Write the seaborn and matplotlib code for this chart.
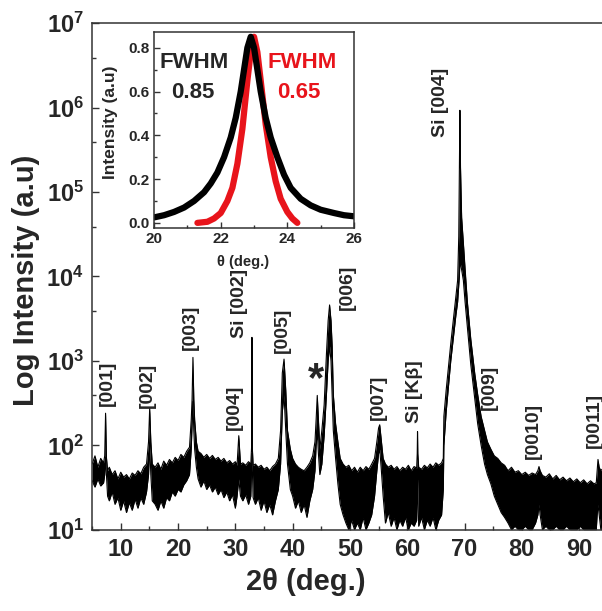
import numpy as np
import pandas as pd
import seaborn as sns
from matplotlib import pyplot as plt
from matplotlib.ticker import FixedLocator, LogLocator, MultipleLocator, NullFormatter

# main XRD pattern, read off the picture as an envelope of the noisy trace
# (2theta, upper edge, lower edge)
tt = [5.0, 5.5, 6.0, 6.5, 7.0, 7.2, 7.35, 7.5, 7.7,
      8.0, 8.5, 9.0, 9.5, 10.0, 10.5, 11.0, 11.5, 12.0, 12.5, 13.0, 13.5, 14.0, 14.5,
      14.85, 15.05, 15.25, 15.5,
      16.0, 16.5, 17.0, 17.5, 18.0, 18.5, 19.0, 19.5, 20.0, 20.5, 21.0, 21.5, 22.0,
      22.3, 22.45, 22.6, 22.75, 22.9, 23.2,
      23.5, 24.0, 24.5, 25.0, 25.5, 26.0, 26.5, 27.0, 27.5, 28.0, 28.5, 29.0, 29.5, 30.0, 30.3,
      30.6, 30.9, 31.3, 31.8, 32.3, 32.7,
      32.85, 32.9, 32.95, 33.1,
      33.5, 34.0, 34.5, 35.0, 35.5, 36.0, 36.5, 37.0, 37.5,
      37.9, 38.2, 38.5, 38.8, 39.1, 39.6,
      40.0, 40.5, 41.0, 41.5, 42.0, 42.5, 43.0, 43.5, 43.9,
      44.1, 44.3, 44.5, 44.75,
      45.1, 45.5, 45.9, 46.2, 46.45, 46.7, 46.9, 47.1, 47.5, 47.9, 48.3,
      48.8, 49.3, 49.8, 50.3, 50.8, 51.3, 51.8, 52.3, 52.8, 53.3, 53.8, 54.3,
      54.7, 55.0, 55.2, 55.45, 55.8,
      56.2, 56.7, 57.2, 57.7, 58.2, 58.7, 59.2, 59.7, 60.2, 60.7, 61.2, 61.65,
      61.75, 61.8, 61.85, 62.0,
      62.5, 63.0, 63.5, 64.0, 64.5, 65.0, 65.5, 66.0, 66.3,
      66.4, 66.8, 67.2, 67.6, 68.1, 68.5, 68.8, 69.0, 69.1, 69.2, 69.3, 69.5, 69.8, 70.1,
      70.5, 71.1, 71.8, 72.3, 72.9, 73.5, 74.0, 74.6, 75.2, 75.8, 76.4, 77.0, 77.6,
      78.2, 78.8, 79.4, 80.0, 80.6, 81.2, 81.8, 82.4, 82.8,
      83.0, 83.2, 83.6, 84.2, 84.8, 85.4, 86.0, 86.6, 87.2, 87.8, 88.4, 89.0, 89.6,
      90.2, 90.8, 91.4, 92.0, 92.6, 93.0,
      93.15, 93.3, 93.5, 93.8, 94.0]
hi = [60, 75, 55, 70, 62, 75, 240, 72, 50,
      55, 45, 50, 40, 48, 42, 45, 40, 47, 44, 50, 46, 55, 60,
      110, 275, 110, 60,
      55, 62, 52, 65, 58, 68, 62, 72, 66, 78, 72, 85, 95,
      200, 350, 1100, 350, 200, 110,
      85, 80, 72, 78, 70, 76, 68, 72, 65, 70, 62, 66, 60, 64, 58,
      130, 60, 62, 58, 64, 60,
      100, 1900, 100, 58,
      60, 55, 58, 52, 55, 50, 56, 60, 70,
      150, 720, 1050, 450, 150, 90,
      70, 60, 55, 52, 50, 55, 62, 75, 110,
      200, 390, 200, 90,
      150, 300, 1200, 3000, 4600, 3000, 1500, 400, 180, 110, 70,
      60, 55, 58, 50, 55, 48, 55, 50, 56, 52, 60, 70,
      110, 160, 175, 120, 70,
      60, 55, 58, 52, 56, 50, 55, 52, 58, 50, 56, 54,
      80, 145, 80, 55,
      52, 58, 54, 60, 55, 62, 58, 62, 70,
      220, 450, 850, 1600, 3300, 6000, 9000, 30000, 150000, 930000, 200000, 50000, 25000, 12000,
      5000, 1800, 700, 400, 220, 150, 110, 90, 75, 70, 62, 58, 50,
      55, 48, 50, 45, 48, 44, 47, 45, 50,
      56, 50, 44, 42, 46, 40, 44, 39, 42, 38, 41, 37, 40,
      36, 39, 35, 38, 35, 36,
      50, 68, 55, 50, 52]
lo = [38, 32, 40, 33, 36, 45, 70, 45, 25,
      22, 28, 20, 24, 17, 22, 16, 21, 17, 23, 18, 24, 20, 28,
      45, 100, 45, 22,
      20, 17, 22, 18, 24, 22, 28, 25, 30, 28, 34, 38, 45,
      90, 180, 330, 150, 90, 55,
      40, 32, 38, 30, 34, 28, 32, 26, 30, 24, 28, 22, 26, 18, 25,
      40, 25, 22, 26, 20, 25,
      60, 80, 60, 24,
      20, 24, 17, 22, 16, 20, 15, 22, 30,
      60, 250, 400, 150, 60, 30,
      25, 18, 22, 16, 20, 14, 22, 30, 50,
      100, 150, 80, 45,
      60, 130, 400, 1000, 1500, 1000, 400, 150, 70, 35, 20,
      15, 12, 10, 13, 10, 12, 10, 14, 10, 12, 15, 25,
      50, 80, 90, 55, 25,
      12, 16, 11, 14, 10, 13, 11, 14, 10, 12, 11, 13,
      30, 40, 30, 11,
      14, 10, 13, 11, 14, 10, 13, 15, 30,
      100, 250, 500, 1000, 2000, 3500, 5000, 8000, 10000, 15000, 14000, 12000, 9000, 5000,
      2500, 900, 350, 180, 100, 60, 45, 35, 25, 20, 16, 14, 12,
      10, 11, 10, 10, 11, 10, 10, 12, 15,
      20, 15, 10, 11, 10, 10, 11, 10, 10, 11, 10, 10, 10,
      11, 10, 10, 10, 10, 10,
      15, 20, 15, 10, 10]

# peak labels: text, 2theta, intensity at the label's lower end
peak_text = ['[001]', '[002]', '[003]', '[004]', 'Si [002]', '[005]', '[006]', '[007]',
             'Si [K\u03b2]', 'Si [004]', '[009]', '[0010]', '[0011]']
peak_x = [7.6, 14.6, 22.2, 29.8, 30.8, 38.2, 49.6, 55.0, 61.3, 65.8, 74.4, 82.0, 92.6]
peak_y = [290, 280, 1350, 150, 1850, 1230, 4000, 200, 185, 450000, 265, 68, 94]

# inset: normalised [003] peak, two samples
theta_black = [20.0, 20.3, 20.6, 20.9, 21.2, 21.5, 21.7, 21.9, 22.1, 22.3, 22.45, 22.6,
               22.7, 22.8, 22.9, 23.0, 23.1, 23.2, 23.35, 23.5, 23.7, 23.9, 24.1, 24.4,
               24.7, 25.0, 25.4, 25.7, 26.0]
int_black = [0.025, 0.035, 0.05, 0.07, 0.1, 0.14, 0.18, 0.23, 0.3, 0.39, 0.48, 0.6,
             0.7, 0.8, 0.85, 0.8, 0.7, 0.6, 0.48, 0.39, 0.3, 0.22, 0.16, 0.11,
             0.08, 0.06, 0.045, 0.035, 0.03]
theta_red = [21.3, 21.6, 21.8, 22.0, 22.2, 22.35, 22.5, 22.65, 22.8, 22.9, 23.0, 23.1,
             23.2, 23.35, 23.5, 23.65, 23.8, 24.0, 24.15, 24.3]
int_red = [0.0, 0.005, 0.02, 0.045, 0.1, 0.16, 0.27, 0.43, 0.65, 0.78, 0.85, 0.78,
           0.65, 0.45, 0.3, 0.19, 0.11, 0.05, 0.02, 0.0]

sns.set_theme(style='ticks')
plt.rcParams['font.family'] = ['Liberation Sans', 'DejaVu Sans']
plt.rcParams['font.weight'] = 'bold'
plt.rcParams['axes.labelweight'] = 'bold'
plt.rcParams['axes.linewidth'] = 1.1
plt.rcParams['axes.edgecolor'] = '#333333'

fig = plt.figure(figsize=(6.02, 6.11), dpi=100)
ax = fig.add_axes([0.153, 0.133, 0.847, 0.829])

main = pd.DataFrame({'tt': tt, 'hi': hi, 'lo': lo})
ax.fill_between(main['tt'], main['lo'], main['hi'], color='black', lw=0)
sns.lineplot(data=main, x='tt', y='hi', ax=ax, color='black', lw=0.8)
sns.lineplot(data=main, x='tt', y='lo', ax=ax, color='black', lw=0.8)

ax.set_yscale('log')
ax.set_xlim(5, 94)
ax.set_ylim(10, 1e7)
ax.xaxis.set_major_locator(FixedLocator([10, 20, 30, 40, 50, 60, 70, 80, 90]))
ax.xaxis.set_minor_locator(MultipleLocator(5))
ax.yaxis.set_major_locator(LogLocator(base=10, numticks=10))
ax.yaxis.set_minor_locator(LogLocator(base=10, subs=[3.9], numticks=10))
ax.yaxis.set_minor_formatter(NullFormatter())
ax.tick_params(which='both', direction='in', color='#333333')
ax.tick_params(which='major', length=5, width=1, labelsize=17, pad=6)
ax.tick_params(which='minor', length=3, width=1)
ax.spines['right'].set_visible(False)

ax.set_xlabel('2\u03b8 (deg.)', fontsize=21)
ax.set_ylabel('Log Intensity (a.u)', fontsize=21)
ax.xaxis.set_label_coords(0.42, -0.075)
ax.yaxis.set_label_coords(-0.102, 0.493)

for t, x, y in zip(peak_text, peak_x, peak_y):
    ax.text(x, y, t, rotation=90, ha='center', va='bottom', fontsize=14)
ax.text(44.1, 600, '*', ha='center', va='center', fontsize=30)

# inset
ins = fig.add_axes([0.256, 0.627, 0.332, 0.321])
sns.lineplot(x=theta_red, y=int_red, ax=ins, color='#e8141b', lw=4.5, sort=False)
sns.lineplot(x=theta_black, y=int_black, ax=ins, color='black', lw=4.5, sort=False)
ins.set_xlim(20, 26)
ins.set_ylim(-0.023, 0.873)
ins.xaxis.set_major_locator(MultipleLocator(2))
ins.xaxis.set_minor_locator(MultipleLocator(1))
ins.yaxis.set_major_locator(MultipleLocator(0.2))
ins.yaxis.set_minor_locator(MultipleLocator(0.1))
ins.yaxis.set_major_formatter(lambda v, p: f'{v:.1f}')
ins.tick_params(which='both', direction='in', color='#333333')
ins.tick_params(which='major', length=4, width=1, labelsize=11, pad=3)
ins.tick_params(which='minor', length=2, width=1)
ins.set_xlabel('\u03b8 (deg.)', fontsize=10.5)
ins.set_ylabel('Intensity (a.u)', fontsize=12.5)
ins.xaxis.set_label_coords(0.445, -0.14)
ins.yaxis.set_label_coords(-0.18, 0.54)
ins.set_facecolor('white')

ins.text(21.2, 0.734, 'FWHM', ha='center', va='center', fontsize=16)
ins.text(21.15, 0.597, '0.85', ha='center', va='center', fontsize=16)
ins.text(24.44, 0.734, 'FWHM', ha='center', va='center', fontsize=16, color='#e8141b')
ins.text(24.33, 0.597, '0.65', ha='center', va='center', fontsize=16, color='#e8141b')

fig.savefig('out.png', dpi=100)
